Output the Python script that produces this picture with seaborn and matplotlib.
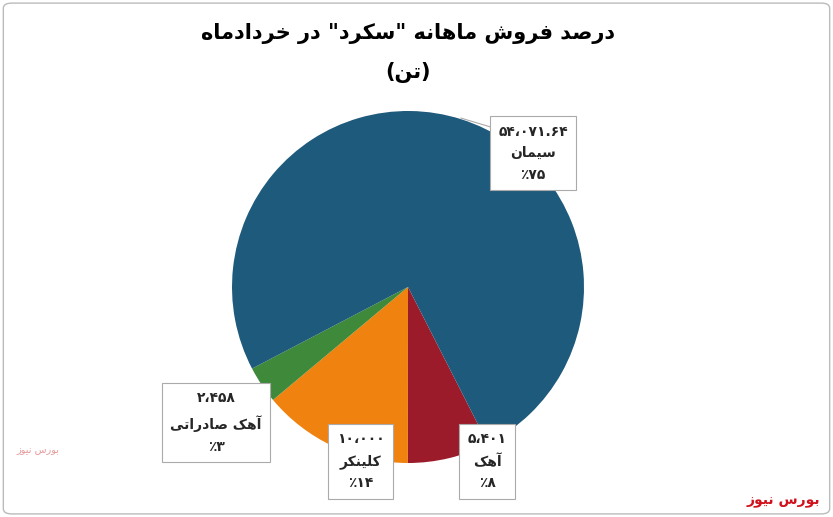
import matplotlib
matplotlib.use("Agg")
import matplotlib.pyplot as plt
import seaborn as sns
from matplotlib.patches import FancyBboxPatch

sns.set_theme(style="white")
plt.rcParams['font.family'] = ['DejaVu Sans']

categories = ["آهک", "کلینکر", "آهک صادراتی", "سیمان"]
values = [5401, 10000, 2458, 54071.64]
value_labels = ["۵،۴۰۱", "۱۰،۰۰۰", "۲،۴۵۸", "۵۴،۰۷۱.۶۴"]
pct_labels = ["٪۸", "٪۱۴", "٪۳", "٪۷۵"]
colors = ["#9B1B2A", "#F0820F", "#3E8A3A", "#1E5A7B"]

# --- minimal Persian shaping ---
FORMS = {
 'ا': ('\uFE8D', '\uFE8E', None, None), 'آ': ('\uFE81', '\uFE82', None, None),
 'ب': ('\uFE8F', '\uFE90', '\uFE91', '\uFE92'), 'ت': ('\uFE95', '\uFE96', '\uFE97', '\uFE98'),
 'خ': ('\uFEA5', '\uFEA6', '\uFEA7', '\uFEA8'), 'د': ('\uFEA9', '\uFEAA', None, None),
 'ر': ('\uFEAD', '\uFEAE', None, None), 'ز': ('\uFEAF', '\uFEB0', None, None),
 'س': ('\uFEB1', '\uFEB2', '\uFEB3', '\uFEB4'), 'ش': ('\uFEB5', '\uFEB6', '\uFEB7', '\uFEB8'),
 'ص': ('\uFEB9', '\uFEBA', '\uFEBB', '\uFEBC'), 'ف': ('\uFED1', '\uFED2', '\uFED3', '\uFED4'),
 'ل': ('\uFEDD', '\uFEDE', '\uFEDF', '\uFEE0'), 'م': ('\uFEE1', '\uFEE2', '\uFEE3', '\uFEE4'),
 'ن': ('\uFEE5', '\uFEE6', '\uFEE7', '\uFEE8'), 'ه': ('\uFEE9', '\uFEEA', '\uFEEB', '\uFEEC'),
 'و': ('\uFEED', '\uFEEE', None, None), 'ک': ('\uFB8E', '\uFB8F', '\uFB90', '\uFB91'),
 'گ': ('\uFB92', '\uFB93', '\uFB94', '\uFB95'), 'ی': ('\uFBFC', '\uFBFD', '\uFBFE', '\uFBFF'),
}
def joins_next(c):
    return c in FORMS and FORMS[c][2] is not None
def shape(s):
    out = []
    for i, c in enumerate(s):
        if c not in FORMS:
            out.append(c); continue
        prev = s[i-1] if i > 0 else ''
        nxt = s[i+1] if i + 1 < len(s) else ''
        jp = joins_next(prev)
        jn = joins_next(c) and nxt in FORMS
        iso, fin, ini, med = FORMS[c]
        if jp and jn: out.append(med)
        elif jp: out.append(fin)
        elif jn: out.append(ini)
        else: out.append(iso)
    vis = ''.join(out)[::-1]
    return vis.translate(str.maketrans('()', ')('))

fig = plt.figure(figsize=(8.33, 5.17), dpi=100)
frame = FancyBboxPatch((0.004, 0.006), 0.992, 0.988, boxstyle="round,pad=0,rounding_size=0.01",
                       transform=fig.transFigure, fc="white", ec="#BBBBBB", lw=1, zorder=-10)
fig.patches.append(frame)
ax = fig.add_axes([408/833 - 176/833, 1 - 287/517 - 176/517, 352/833, 352/517])
ax.set_zorder(5)
ax.pie(values, colors=colors, startangle=-63, counterclock=False, radius=1,
       wedgeprops=dict(linewidth=0))
ax.set_xlim(-1, 1); ax.set_ylim(-1, 1); ax.set_aspect('auto'); ax.axis('off')

boxes = [(0.45, -0.99), (-0.27, -0.99), (-1.09, -0.77), (0.71, 0.76)]
for cat, vl, pl, (bx, by) in zip(categories, value_labels, pct_labels, boxes):
    txt = vl + "\n" + shape(cat) + "\n" + pl
    ax.text(bx, by, txt, ha='center', va='center', fontsize=10, fontweight='bold',
            linespacing=1.7, zorder=5, clip_on=False,
            bbox=dict(boxstyle='square,pad=0.6', fc='white', ec='#AAAAAA', lw=0.8))
ax.plot([0.30, 0.50], [0.96, 0.90], color='#AAAAAA', lw=0.8, zorder=4, clip_on=False)

fig.text(0.49, 0.935, shape('درصد فروش ماهانه "سکرد" در خردادماه'), ha='center', va='center',
         fontsize=15, fontweight='bold', color='black')
fig.text(0.49, 0.86, shape('(تن)'), ha='center', va='center', fontsize=15, fontweight='bold',
         color='black')
fig.text(0.985, 0.03, shape('بورس نیوز'), ha='right', va='center', fontsize=10,
         fontweight='bold', color='#D0101A')
fig.text(0.045, 0.13, shape('بورس نیوز'), ha='center', va='center', fontsize=7,
         color='#E08080', alpha=0.8)
fig.savefig("out.png", dpi=100)
